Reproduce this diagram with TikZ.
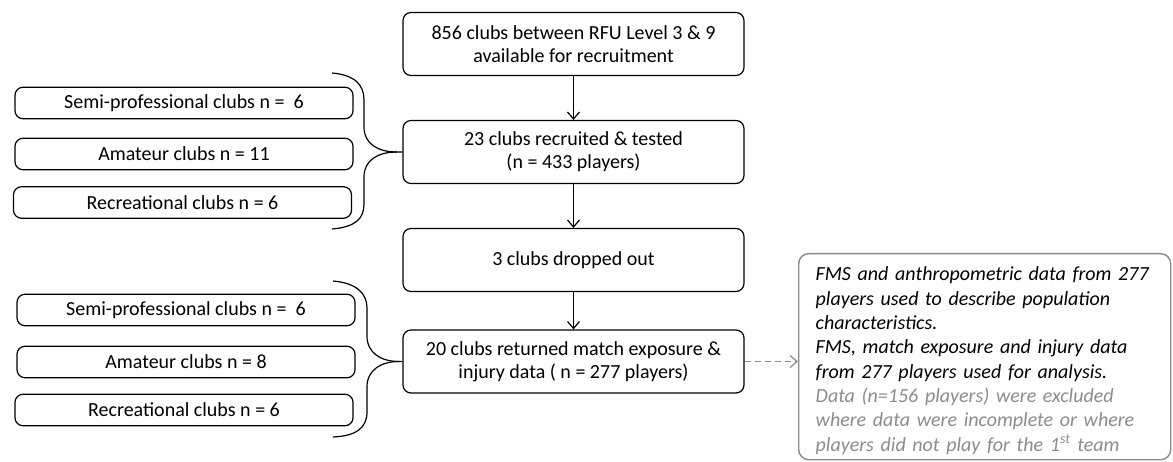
\documentclass[tikz,border=0pt]{standalone}
\usepackage{fontspec}
\setmainfont{Carlito}
\usetikzlibrary{arrows.meta}
\definecolor{greytxt}{HTML}{8C8C8C}
\definecolor{greyline}{HTML}{8A8A8A}
\begin{document}
\begin{tikzpicture}[x=1pt,y=-1pt,
  box/.style={draw,line width=1.2pt,rounded corners=8pt,align=center,font=\fontsize{20}{23}\selectfont,inner sep=0pt},
  cbox/.style={box,minimum width=341pt,minimum height=63pt},
  lbox/.style={box,minimum width=338pt,minimum height=31.5pt},
  arr/.style={line width=1.2pt,-{Straight Barb[length=7pt,width=12pt]}},
  darr/.style={line width=1.2pt,greyline,dash pattern=on 6pt off 4pt,-{Straight Barb[length=7pt,width=12pt]}},
  bracepath/.style={line width=1.2pt},
  resbox/.style={draw=greyline,line width=1.4pt,rounded corners=10pt,inner sep=0pt,minimum width=372pt,minimum height=206pt},
  restext/.style={align=left,text width=342pt,inner sep=0pt,font=\fontsize{20}{24.3}\selectfont\itshape}]
\path[use as bounding box] (0,0) rectangle (1173,462);
% centre column
\node[cbox] (b1) at (573.5,44) {856 clubs between RFU Level 3 \& 9\\available for recruitment};
\node[cbox] (b2) at (573.5,152) {23 clubs recruited \& tested\\(n = 433 players)};
\node[cbox] (b3) at (573.5,260) {3 clubs dropped out};
\node[cbox] (b4) at (573.5,361.5) {20 clubs returned match exposure \&\\injury data ( n = 277 players)};
% left group 1
\node[lbox] (s1) at (184,103) {Semi-professional clubs n =~ 6};
\node[lbox] (a1) at (184,154) {Amateur clubs n = 11};
\node[lbox] (r1) at (182.5,202.5) {Recreational clubs n = 6};
% left group 2
\node[lbox] (s2) at (186,310) {Semi-professional clubs n =~ 6};
\node[lbox] (a2) at (186,362) {Amateur clubs n = 8};
\node[lbox] (r2) at (184,410) {Recreational clubs n = 6};
% result box
\node[resbox,anchor=north west] (res) at (798,253) {};
\node[restext] (rtext) at ([xshift=2pt,yshift=-4pt]res.center) {FMS and anthropometric data from 277\\players used to describe population\\characteristics.\\FMS, match exposure and injury data\\from 277 players used for analysis.\\\textcolor{greytxt}{Data (n=156 players) were excluded}\\\textcolor{greytxt}{where data were incomplete or where}\\\textcolor{greytxt}{players did not play for the 1\textsuperscript{st} team}};
% arrows
\draw[arr] (b1) -- (b2);
\draw[arr] (b2) -- (b3);
\draw[arr] (b3) -- (b4);
\draw[darr] (b4.east) -- (b4.east -| res.west);
% braces
\coordinate (t1) at (397,152);
\draw[bracepath] (332,73) .. controls (355,75) and (364,85) .. (364,100) -- (364,127)
  .. controls (364,144) and (378,152) .. (t1) -- (b2.west);
\draw[bracepath] (t1) .. controls (378,152) and (364,160) .. (364,177) -- (364,204)
  .. controls (364,219) and (355,227) .. (332,229);
\coordinate (t2) at (399,361.5);
\draw[bracepath] (333,281) .. controls (356,283) and (367,293) .. (367,308) -- (367,336)
  .. controls (367,353) and (381,361.5) .. (t2) -- (b4.west);
\draw[bracepath] (t2) .. controls (381,361.5) and (367,370) .. (367,387) -- (367,412)
  .. controls (367,428) and (356,436) .. (333,437);
\end{tikzpicture}
\end{document}
